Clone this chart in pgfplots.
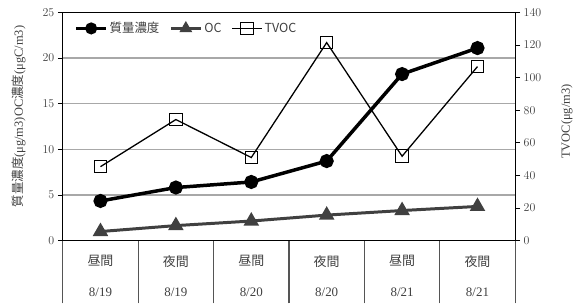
\documentclass[border=0pt]{standalone}
\usepackage{fontspec}
\setmainfont{Liberation Serif}
\newfontfamily\cjk{Noto Sans CJK JP}
\usepackage{pgfplots}
\pgfplotsset{compat=1.18}
\definecolor{ocgray}{HTML}{404040}
\definecolor{gridgray}{HTML}{A8A8A8}
\definecolor{tabgray}{HTML}{555555}
\begin{document}
\begin{tikzpicture}
\pgfplotsset{
  every axis/.append style={
    width=454pt, height=229pt, scale only axis,
    xmin=-0.5, xmax=5.5,
    tick align=outside,
    major tick length=5pt,
    yticklabel style={font=\fontsize{13}{15}\selectfont, color=black!75},
    ylabel style={font=\fontsize{12.5}{14}\selectfont},
  },
}
\begin{axis}[
  ymin=0, ymax=25,
  ytick={0,5,...,25},
  xtick={0,...,5},
  xticklabels={
    {{\cjk 昼間}\\[16pt]8/19},
    {{\cjk 夜間}\\[16pt]8/19},
    {{\cjk 昼間}\\[16pt]8/20},
    {{\cjk 夜間}\\[16pt]8/20},
    {{\cjk 昼間}\\[16pt]8/21},
    {{\cjk 夜間}\\[16pt]8/21}},
  xticklabel style={align=center, font=\fontsize{13}{15}\selectfont, color=black!75, yshift=-6pt},
  minor xtick={-0.5,0.5,...,5.5},
  minor tick length=63pt,
  major x tick style={draw=none},
  minor x tick style={color=tabgray, line width=1.3pt},
  y tick style={color=black, line width=0.8pt},
  xtick pos=bottom, ytick pos=left,
  ymajorgrids,
  grid style={color=gridgray, line width=1.3pt},
  axis line style={line width=1pt},
  ylabel={{\cjk 質量濃度}(μg/m3)OC{\cjk 濃度}(μgC/m3)},
  ylabel style={at={(axis description cs:0,0.5)}, anchor=center, yshift=44pt, xshift=10pt, color=black!75},
]
\addplot[black, line width=3.5pt, mark=*, mark size=5.3pt]
  coordinates {(0,4.35) (1,5.82) (2,6.43) (3,8.72) (4,18.25) (5,21.1)};
\addplot[ocgray, line width=3pt, mark=triangle*, mark size=6pt, mark options={solid}]
  coordinates {(0,1.0) (1,1.65) (2,2.15) (3,2.8) (4,3.3) (5,3.75)};
\coordinate (tl) at (rel axis cs:0,1);
\coordinate (br) at (rel axis cs:1,0);
\end{axis}
\begin{axis}[
  ymin=0, ymax=140,
  ytick={0,20,...,140},
  axis x line=none,
  axis y line*=right,
  y tick style={color=black, line width=0.8pt},
  axis line style={line width=1pt},
  ylabel={TVOC(μg/m3)},
  ylabel style={at={(axis description cs:1,0.5)}, anchor=center, yshift=-52pt, xshift=5pt, color=black!75},
  legend style={at={(axis description cs:0.026,0.93)}, anchor=west, draw=none, fill=none,
    inner sep=0pt, font=\fontsize{12.5}{14}\selectfont\cjk, text=black!75,
    /tikz/every even column/.append style={column sep=8pt}},
  legend columns=-1,
  legend image code/.code={\draw[mark repeat=2,mark phase=2] plot coordinates {(0pt,0pt) (15pt,0pt) (30pt,0pt)};},
]
\addlegendimage{black, line width=3pt, mark=*, mark size=4.5pt}
\addlegendentry{質量濃度}
\addlegendimage{ocgray, line width=3pt, mark=triangle*, mark size=4.5pt}
\addlegendentry{OC}
\addplot[black, line width=1.3pt, mark=square, mark size=6.3pt, mark options={line width=1pt}]
  coordinates {(0,45.4) (1,74.3) (2,51.0) (3,121.5) (4,51.8) (5,106.8)};
\addlegendentry{TVOC}
\end{axis}
\path ([shift={(-63pt,12.5pt)}]tl) rectangle ([shift={(59pt,-63.5pt)}]br);
\end{tikzpicture}
\end{document}
